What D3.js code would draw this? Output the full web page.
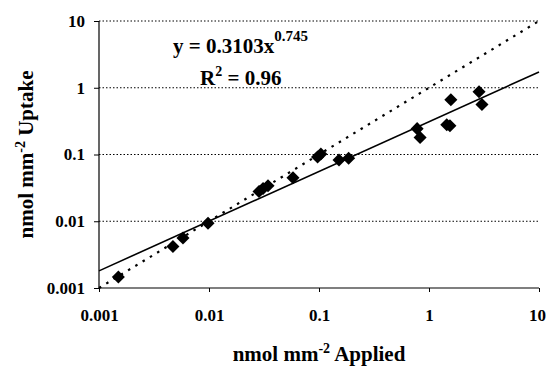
<!DOCTYPE html>
<html>
<head>
<meta charset="utf-8">
<script src="https://cdn.jsdelivr.net/npm/d3@7"></script>
<style>
  body { margin: 0; background: white; }
  text { font-family: "Liberation Serif", "Times New Roman", serif; font-weight: bold; fill: black; }
</style>
</head>
<body>
<svg width="546" height="367"></svg>
<script>
var width = 546, height = 367;

// data
var applied = [0.0015, 0.0047, 0.0058, 0.0098, 0.0285, 0.031, 0.0344, 0.058, 0.097, 0.104,
               0.152, 0.186, 0.78, 0.83, 1.45, 1.55, 1.58, 2.85, 3.03];
var uptake  = [0.00146, 0.0042, 0.0056, 0.0093, 0.028, 0.031, 0.034, 0.045, 0.092, 0.102,
               0.083, 0.088, 0.244, 0.18, 0.28, 0.27, 0.66, 0.87, 0.56];
var xTicks = [0.001, 0.01, 0.1, 1, 10];
var yTicks = [0.001, 0.01, 0.1, 1, 10];
var tickLabels = ["0.001", "0.01", "0.1", "1", "10"];
var fitCoef = 0.3103, fitExp = 0.745, fitR2 = 0.96;
var oneToOne = [0.001, 10];

var svg = d3.select('svg');
svg.append('rect').attr('width', width).attr('height', height).attr('fill', 'white');

var plotL = 99, plotR = 539, plotT = 21, plotB = 288;

var x = d3.scaleLog().domain([0.001, 10]).range([plotL, plotR]);
var y = d3.scaleLog().domain([0.001, 10]).range([plotB, plotT]);

// horizontal dotted gridlines
svg.append('g').selectAll('line')
  .data(yTicks.slice(1))
  .enter().append('line')
  .attr('x1', plotL).attr('x2', plotR)
  .attr('y1', function(d) { return y(d); })
  .attr('y2', function(d) { return y(d); })
  .attr('stroke', 'black')
  .attr('stroke-width', 1)
  .attr('stroke-dasharray', '1.5,2');

// axes
var xAxis = d3.axisBottom(x).tickValues(xTicks).tickSize(4)
  .tickFormat(function(d, i) { return tickLabels[i]; });
var yAxis = d3.axisLeft(y).tickValues(yTicks).tickSize(5)
  .tickFormat(function(d, i) { return tickLabels[i]; });

var gx = svg.append('g').attr('transform', 'translate(0,' + plotB + ')').call(xAxis);
var gy = svg.append('g').attr('transform', 'translate(' + plotL + ',0)').call(yAxis);

[gx, gy].forEach(function(g) {
  g.select('.domain').remove();
  g.selectAll('.tick line').attr('stroke', 'black').attr('stroke-width', 1);
  g.selectAll('.tick text').style('font-size', '17px').attr('font-family', null);
});
svg.append('line').attr('x1', plotL).attr('x2', plotR).attr('y1', plotB).attr('y2', plotB)
  .attr('stroke', 'black').attr('stroke-width', 1.2);
svg.append('line').attr('x1', plotL).attr('x2', plotL).attr('y1', plotT).attr('y2', plotB)
  .attr('stroke', 'black').attr('stroke-width', 1.2);

gx.selectAll('.tick text').attr('dy', '0').attr('y', 33)
  .attr('dx', function(d) { return d === 10 ? -2 : 0; });
gy.selectAll('.tick text').attr('x', -14).attr('dy', '0.32em');

// 1:1 dotted line
var line = d3.line()
  .x(function(d) { return x(d[0]); })
  .y(function(d) { return y(d[1]); });

svg.append('path')
  .datum(oneToOne.map(function(d) { return [d, d]; }))
  .attr('d', line)
  .attr('fill', 'none')
  .attr('stroke', 'black')
  .attr('stroke-width', 2.2)
  .attr('stroke-dasharray', '2.5,6');

// power trendline
svg.append('path')
  .datum(oneToOne.map(function(d) { return [d, fitCoef * Math.pow(d, fitExp)]; }))
  .attr('d', line)
  .attr('fill', 'none')
  .attr('stroke', 'black')
  .attr('stroke-width', 1.6);

// diamond markers
var diamond = d3.symbol().type(d3.symbolSquare).size(85);
svg.append('g').selectAll('path')
  .data(applied.map(function(d, i) { return [d, uptake[i]]; }))
  .enter().append('path')
  .attr('d', diamond)
  .attr('transform', function(d) {
    return 'translate(' + x(d[0]) + ',' + y(d[1]) + ') rotate(45)';
  })
  .attr('fill', 'black');

// equation
var eq = svg.append('text').attr('x', 173).attr('y', 53).style('font-size', '21px');
eq.append('tspan').text('y = ' + fitCoef + 'x');
eq.append('tspan').attr('dy', -12).style('font-size', '15px').text(fitExp);

var r2 = svg.append('text').attr('x', 200).attr('y', 85).style('font-size', '21px');
r2.append('tspan').text('R');
r2.append('tspan').attr('dy', -9).style('font-size', '14px').text('2');
r2.append('tspan').attr('dy', 9).text(' = ' + fitR2);

// axis titles
var xt = svg.append('text').attr('x', (plotL + plotR) / 2).attr('y', 361)
  .attr('text-anchor', 'middle').style('font-size', '21px');
xt.append('tspan').text('nmol mm');
xt.append('tspan').attr('dy', -8).style('font-size', '14px').text('-2');
xt.append('tspan').attr('dy', 8).text(' Applied');

var yt = svg.append('text')
  .attr('transform', 'translate(33,' + (plotT + plotB) / 2 + ') rotate(-90)')
  .attr('text-anchor', 'middle').style('font-size', '21px');
yt.append('tspan').text('nmol mm');
yt.append('tspan').attr('dy', -8).style('font-size', '14px').text('-2');
yt.append('tspan').attr('dy', 8).text(' Uptake');
</script>
</body>
</html>
